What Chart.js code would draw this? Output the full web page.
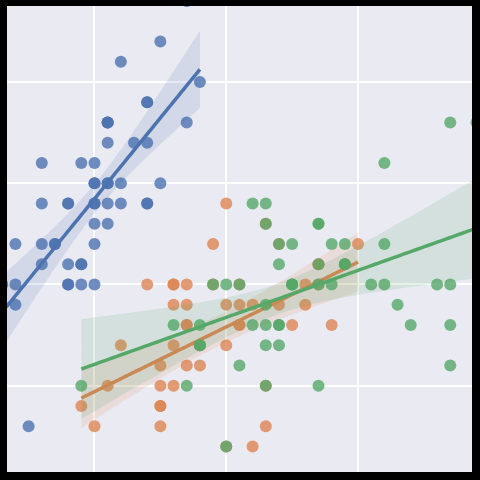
<!DOCTYPE html>
<html>
<head>
<meta charset="utf-8">
<script src="https://cdn.jsdelivr.net/npm/chart.js@4.4.1/dist/chart.umd.min.js"></script>
<style>
  html, body { margin: 0; padding: 0; background: #000; }
  #wrap { width: 480px; height: 480px; }
</style>
</head>
<body>
<div id="wrap"><canvas id="chart" width="480" height="480"></canvas></div>
<script>
// iris: sepal length (x) vs sepal width (y), by species
const setosaLength = [5.1,4.9,4.7,4.6,5.0,5.4,4.6,5.0,4.4,4.9,5.4,4.8,4.8,4.3,5.8,5.7,5.4,5.1,5.7,5.1,5.4,5.1,4.6,5.1,4.8,5.0,5.0,5.2,5.2,4.7,4.8,5.4,5.2,5.5,4.9,5.0,5.5,4.9,4.4,5.1,5.0,4.5,4.4,5.0,5.1,4.8,5.1,4.6,5.3,5.0];
const setosaWidth  = [3.5,3.0,3.2,3.1,3.6,3.9,3.4,3.4,2.9,3.1,3.7,3.4,3.0,3.0,4.0,4.4,3.9,3.5,3.8,3.8,3.4,3.7,3.6,3.3,3.4,3.0,3.4,3.5,3.4,3.2,3.1,3.4,4.1,4.2,3.1,3.2,3.5,3.6,3.0,3.4,3.5,2.3,3.2,3.5,3.8,3.0,3.8,3.2,3.7,3.3];

const versicolorLength = [7.0,6.4,6.9,5.5,6.5,5.7,6.3,4.9,6.6,5.2,5.0,5.9,6.0,6.1,5.6,6.7,5.6,5.8,6.2,5.6,5.9,6.1,6.3,6.1,6.4,6.6,6.8,6.7,6.0,5.7,5.5,5.5,5.8,6.0,5.4,6.0,6.7,6.3,5.6,5.5,5.5,6.1,5.8,5.0,5.6,5.7,5.7,6.2,5.1,5.7];
const versicolorWidth  = [3.2,3.2,3.1,2.3,2.8,2.8,3.3,2.4,2.9,2.7,2.0,3.0,2.2,2.9,2.9,3.1,3.0,2.7,2.2,2.5,3.2,2.8,2.5,2.8,2.9,3.0,2.8,3.0,2.9,2.6,2.4,2.4,2.7,2.7,3.0,3.4,3.1,2.3,3.0,2.5,2.6,3.0,2.6,2.3,2.7,3.0,2.9,2.9,2.5,2.8];

const virginicaLength = [6.3,5.8,7.1,6.3,6.5,7.6,4.9,7.3,6.7,7.2,6.5,6.4,6.8,5.7,5.8,6.4,6.5,7.7,7.7,6.0,6.9,5.6,7.7,6.3,6.7,7.2,6.2,6.1,6.4,7.2,7.4,7.9,6.4,6.3,6.1,7.7,6.3,6.4,6.0,6.9,6.7,6.9,5.8,6.8,6.7,6.7,6.3,6.5,6.2,5.9];
const virginicaWidth  = [3.3,2.7,3.0,2.9,3.0,3.0,2.5,2.9,2.5,3.6,3.2,2.7,3.0,2.5,2.8,3.2,3.0,3.8,2.6,2.2,3.2,2.8,2.8,2.7,3.3,3.2,2.8,3.0,2.8,3.0,2.8,3.8,2.8,2.8,2.6,3.0,3.4,3.1,3.0,3.1,3.1,3.1,2.7,3.2,3.3,3.0,2.5,3.0,3.4,3.0];

const xGrid = [5, 6, 7];
const yGrid = [2.5, 3.0, 3.5, 4.0];

const colors = [[76,114,176], [221,132,82], [85,168,104]];
const rgba = (c, a) => `rgba(${c[0]},${c[1]},${c[2]},${a})`;

// least squares fit, 95% band from a robust (row-resampling like) variance
function fit(xs, ys) {
  const n = xs.length;
  const mx = xs.reduce((a, b) => a + b, 0) / n;
  const my = ys.reduce((a, b) => a + b, 0) / n;
  let sxx = 0, sxy = 0;
  for (let i = 0; i < n; i++) {
    sxx += (xs[i] - mx) ** 2;
    sxy += (xs[i] - mx) * (ys[i] - my);
  }
  const b = sxy / sxx, a = my - b * mx;
  const res = xs.map((x, i) => ys[i] - a - b * x);
  const lo = Math.min(...xs), hi = Math.max(...xs);
  const line = [], upper = [], lower = [];
  for (let k = 0; k <= 100; k++) {
    const x = lo + (hi - lo) * k / 100;
    const y = a + b * x;
    let v = 0;
    for (let i = 0; i < n; i++) {
      const w = 1 / n + (x - mx) * (xs[i] - mx) / sxx;
      v += w * w * res[i] * res[i];
    }
    const h = 2.0 * Math.sqrt(v * n / (n - 2));
    line.push({ x, y });
    upper.push({ x, y: y + h });
    lower.push({ x, y: y - h });
  }
  return { line, upper, lower };
}

const groups = [
  [setosaLength, setosaWidth],
  [versicolorLength, versicolorWidth],
  [virginicaLength, virginicaWidth]
];

const datasets = [];
let seq = 0;
groups.forEach((g, i) => {
  const c = colors[i];
  const f = fit(g[0], g[1]);
  datasets.push({
    type: 'scatter',
    data: g[0].map((x, k) => ({ x, y: g[1][k] })),
    backgroundColor: rgba(c, 0.8),
    borderWidth: 0,
    pointRadius: 6,
    pointHoverRadius: 6,
    order: 100 - seq++
  });
  const upIdx = datasets.length;
  datasets.push({
    type: 'line',
    data: f.upper,
    borderWidth: 0,
    pointRadius: 0,
    fill: false,
    order: 100 - seq++
  });
  datasets.push({
    type: 'line',
    data: f.lower,
    borderWidth: 0,
    pointRadius: 0,
    backgroundColor: rgba(c, 0.15),
    fill: upIdx,
    order: 100 - seq++
  });
  datasets.push({
    type: 'line',
    data: f.line,
    borderColor: rgba(c, 1),
    borderWidth: 3.5,
    pointRadius: 0,
    fill: false,
    order: 100 - seq++
  });
});

const background = {
  id: 'background',
  beforeDraw(chart) {
    const { ctx, chartArea: a } = chart;
    ctx.save();
    ctx.fillStyle = '#000';
    ctx.fillRect(0, 0, chart.width, chart.height);
    ctx.fillStyle = '#EAEAF2';
    ctx.fillRect(a.left, a.top, a.right - a.left, a.bottom - a.top);
    ctx.restore();
  }
};

new Chart(document.getElementById('chart'), {
  type: 'scatter',
  data: { datasets },
  options: {
    responsive: false,
    animation: false,
    layout: { padding: { left: 7, top: 6, right: 8, bottom: 8 } },
    plugins: { legend: { display: false }, tooltip: { enabled: false } },
    scales: {
      x: {
        type: 'linear',
        min: 4.336,
        max: 7.865,
        afterBuildTicks: s => { s.ticks = xGrid.map(v => ({ value: v })); },
        ticks: { display: false },
        grid: { color: '#fff', lineWidth: 2, drawTicks: false },
        border: { display: false }
      },
      y: {
        type: 'linear',
        min: 2.074,
        max: 4.375,
        afterBuildTicks: s => { s.ticks = yGrid.map(v => ({ value: v })); },
        ticks: { display: false },
        grid: { color: '#fff', lineWidth: 2, drawTicks: false },
        border: { display: false }
      }
    }
  },
  plugins: [background]
});
</script>
</body>
</html>
